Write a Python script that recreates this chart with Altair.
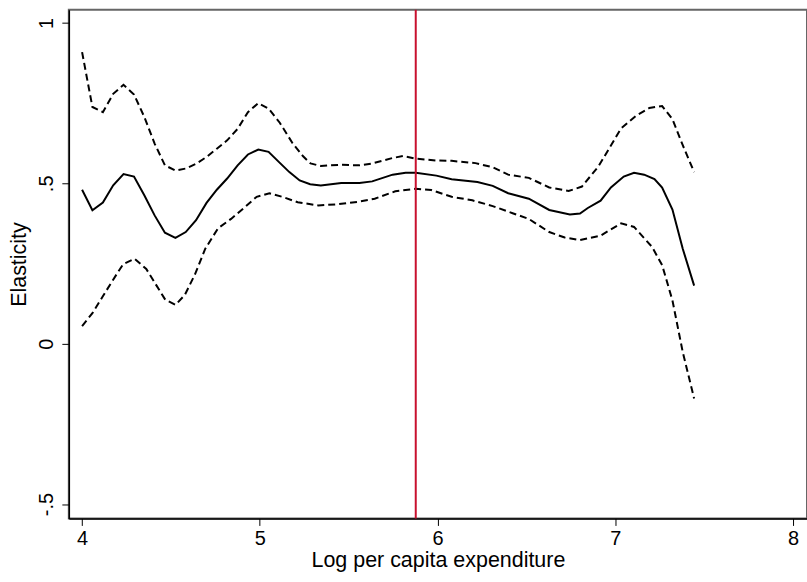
import altair as alt
import pandas as pd

# Estimate (solid line)
est_x = [4.000, 4.058, 4.117, 4.175, 4.233, 4.292, 4.350, 4.408, 4.466, 4.525,
         4.583, 4.641, 4.700, 4.758, 4.816, 4.875, 4.933, 4.991, 5.049, 5.108,
         5.166, 5.224, 5.283, 5.343, 5.458, 5.560, 5.632, 5.747, 5.820, 5.877,
         5.993, 6.079, 6.224, 6.310, 6.397, 6.513, 6.628, 6.744, 6.801, 6.845,
         6.917, 6.975, 7.047, 7.105, 7.162, 7.220, 7.263, 7.321, 7.379, 7.443]
est_y = [0.480, 0.416, 0.440, 0.494, 0.529, 0.521, 0.463, 0.400, 0.346, 0.330,
         0.348, 0.385, 0.439, 0.480, 0.515, 0.556, 0.590, 0.605, 0.598, 0.566,
         0.535, 0.509, 0.497, 0.493, 0.501, 0.501, 0.506, 0.527, 0.533, 0.533,
         0.524, 0.513, 0.504, 0.492, 0.469, 0.452, 0.417, 0.403, 0.406, 0.423,
         0.446, 0.487, 0.521, 0.533, 0.527, 0.513, 0.487, 0.418, 0.296, 0.181]

# Upper confidence band (dashed)
up_x = [4.000, 4.058, 4.117, 4.175, 4.233, 4.292, 4.350, 4.408, 4.466, 4.525,
        4.583, 4.641, 4.700, 4.758, 4.816, 4.875, 4.933, 4.991, 5.049, 5.112,
        5.184, 5.242, 5.285, 5.343, 5.458, 5.560, 5.632, 5.747, 5.805, 5.877,
        5.993, 6.079, 6.213, 6.310, 6.397, 6.513, 6.628, 6.737, 6.812, 6.905,
        7.032, 7.119, 7.191, 7.263, 7.321, 7.379, 7.443]
up_y = [0.909, 0.738, 0.722, 0.779, 0.807, 0.777, 0.707, 0.624, 0.556, 0.540,
        0.546, 0.561, 0.582, 0.608, 0.634, 0.670, 0.722, 0.750, 0.733, 0.689,
        0.625, 0.585, 0.562, 0.554, 0.558, 0.556, 0.562, 0.579, 0.585, 0.577,
        0.571, 0.570, 0.563, 0.550, 0.527, 0.517, 0.487, 0.476, 0.490, 0.553,
        0.671, 0.712, 0.735, 0.741, 0.700, 0.619, 0.535]

# Lower confidence band (dashed)
lo_x = [4.000, 4.058, 4.116, 4.173, 4.231, 4.295, 4.361, 4.419, 4.468, 4.526,
        4.578, 4.635, 4.693, 4.765, 4.838, 4.910, 4.982, 5.054, 5.126, 5.213,
        5.329, 5.444, 5.560, 5.646, 5.762, 5.877, 5.964, 6.079, 6.195, 6.310,
        6.426, 6.513, 6.628, 6.715, 6.801, 6.917, 7.032, 7.105, 7.206, 7.263,
        7.321, 7.379, 7.443]
lo_y = [0.055, 0.095, 0.147, 0.198, 0.248, 0.265, 0.233, 0.181, 0.137, 0.121,
        0.152, 0.216, 0.296, 0.360, 0.389, 0.423, 0.458, 0.469, 0.458, 0.441,
        0.431, 0.435, 0.443, 0.452, 0.475, 0.483, 0.479, 0.458, 0.447, 0.429,
        0.406, 0.389, 0.348, 0.331, 0.323, 0.337, 0.375, 0.364, 0.302, 0.245,
        0.135, -0.026, -0.171]

ref_line_x = [5.877]

x_ticks = [4, 5, 6, 7, 8]
y_ticks = [-0.5, 0, 0.5, 1]
y_tick_labels = ["-.5", "0", ".5", "1"]

x_domain = [3.9254, 8.078]
y_domain = [-0.545, 1.0414]

FONT = "Liberation Sans"

df_est = pd.DataFrame({"x": est_x, "y": est_y})
df_up = pd.DataFrame({"x": up_x, "y": up_y})
df_lo = pd.DataFrame({"x": lo_x, "y": lo_y})
df_ref = pd.DataFrame({"x": ref_line_x})

label_expr = " : ".join(
    [f"datum.value == {v} ? '{l}'" for v, l in zip(y_ticks, y_tick_labels)]
) + " : ''"

x_enc = alt.X(
    "x:Q",
    scale=alt.Scale(domain=x_domain, nice=False, zero=False),
    axis=alt.Axis(
        values=x_ticks, format="d", title="Log per capita expenditure", grid=False,
        labelFontSize=20, titleFontSize=21.5, labelFont=FONT, titleFont=FONT,
        labelColor="black", titleColor="black", domainColor="black",
        domainWidth=1.5, tickColor="black", tickWidth=1, tickSize=7,
        labelPadding=3, titlePadding=1, titleFontWeight="normal", labelFlush=False,
    ),
)
y_enc = alt.Y(
    "y:Q",
    scale=alt.Scale(domain=y_domain, nice=False, zero=False),
    axis=alt.Axis(
        values=y_ticks, title="Elasticity", grid=False, labelExpr=label_expr,
        labelAngle=270, labelAlign="center", labelBaseline="bottom",
        labelFontSize=20, titleFontSize=21.5, labelFont=FONT, titleFont=FONT,
        labelColor="black", titleColor="black", domainColor="black",
        domainWidth=1.5, tickColor="black", tickWidth=1, tickSize=7,
        labelPadding=5, titlePadding=6, titleFontWeight="normal", labelFlush=False,
    ),
)

est = alt.Chart(df_est).mark_line(color="black", strokeWidth=2).encode(x=x_enc, y=y_enc)
up = alt.Chart(df_up).mark_line(color="black", strokeWidth=2, strokeDash=[7, 4]).encode(x="x:Q", y="y:Q")
lo = alt.Chart(df_lo).mark_line(color="black", strokeWidth=2, strokeDash=[7, 4]).encode(x="x:Q", y="y:Q")
ref = alt.Chart(df_ref).mark_rule(color="#c8102e", strokeWidth=2).encode(x="x:Q")

chart = (
    alt.layer(est, up, lo, ref)
    .properties(
        width=740, height=510,
        autosize=alt.AutoSizeParams(type="none"),
        padding={"left": 69, "top": 9, "right": 0, "bottom": 63},
        background="white",
    )
    .configure_view(stroke="#666666", strokeWidth=2)
)

chart.save("out.html", embed_options={"renderer": "svg", "actions": False})
